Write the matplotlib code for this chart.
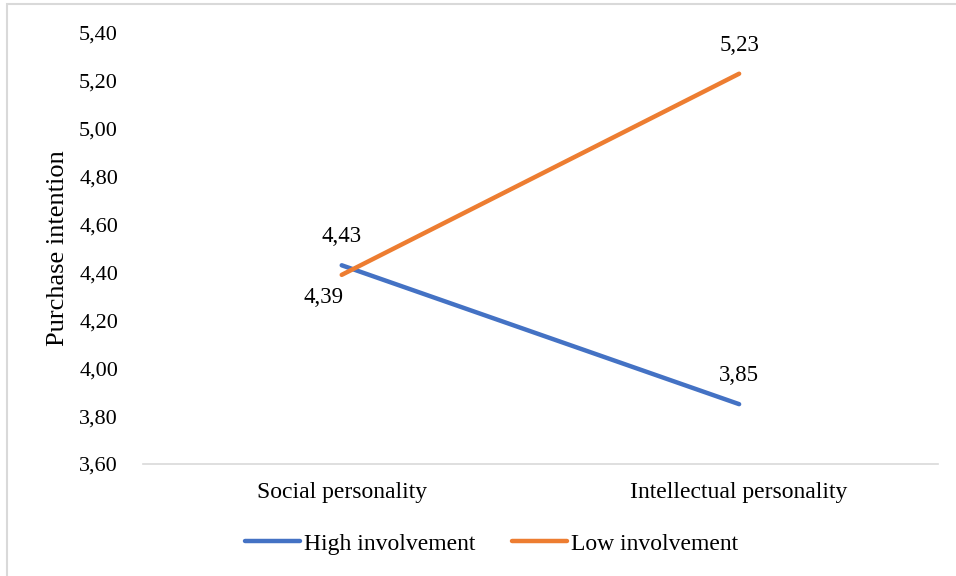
import matplotlib.pyplot as plt
from matplotlib.patches import Rectangle

categories = ['Social personality', 'Intellectual personality']
high_involvement = [4.43, 3.85]
low_involvement = [4.39, 5.23]
y_ticks = [3.6, 3.8, 4.0, 4.2, 4.4, 4.6, 4.8, 5.0, 5.2, 5.4]

plt.rcParams['font.family'] = ['Liberation Serif', 'DejaVu Serif']

blue = '#4472c4'
orange = '#ed7d31'

fig = plt.figure(figsize=(9.56, 5.76), dpi=100)
ax = fig.add_axes([0.1496, 0.1944, 0.8314, 0.7483])

x = [0, 1]
ax.plot(x, high_involvement, color=blue, lw=3.2, solid_capstyle='round', label='High involvement')
ax.plot(x, low_involvement, color=orange, lw=3.2, solid_capstyle='round', label='Low involvement')

fmt = lambda v: f'{v:.2f}'.replace('.', ',')
# data labels
lbl = dict(textcoords='offset points', ha='center', fontsize=16.5)
ax.annotate(fmt(high_involvement[0]), (x[0], high_involvement[0]), xytext=(0, 13), va='bottom', **lbl)
ax.annotate(fmt(high_involvement[1]), (x[1], high_involvement[1]), xytext=(0, 13), va='bottom', **lbl)
ax.annotate(fmt(low_involvement[0]), (x[0], low_involvement[0]), xytext=(-13, -9), va='top', **lbl)
ax.annotate(fmt(low_involvement[1]), (x[1], low_involvement[1]), xytext=(0, 13), va='bottom', **lbl)

ax.set_xlim(-0.5, 1.5)
ax.set_ylim(3.6, 5.4)
ax.set_xticks(x)
ax.set_xticklabels(categories, fontsize=17)
ax.set_yticks(y_ticks)
ax.set_yticklabels([fmt(v) for v in y_ticks], fontsize=16)
ax.tick_params(axis='both', length=0)
ax.tick_params(axis='y', pad=18)
ax.tick_params(axis='x', pad=13)
ax.set_ylabel('Purchase intention', fontsize=19, labelpad=7)

for s in ['top', 'right', 'left']:
    ax.spines[s].set_visible(False)
ax.spines['bottom'].set_color('#d9d9d9')
ax.spines['bottom'].set_linewidth(1.2)

fig.legend(loc='center', bbox_to_anchor=(0.514, 0.056), ncol=2, frameon=False,
           fontsize=17, handlelength=2.35, handletextpad=0.15, columnspacing=1.55)

# outer chart border (only top and left visible in the crop)
fig.add_artist(Rectangle((0.0078, -0.05), 1.2, 1.043, transform=fig.transFigure,
                         fill=False, edgecolor='#d9d9d9', lw=1.5))

fig.savefig('out.png', dpi=100)
